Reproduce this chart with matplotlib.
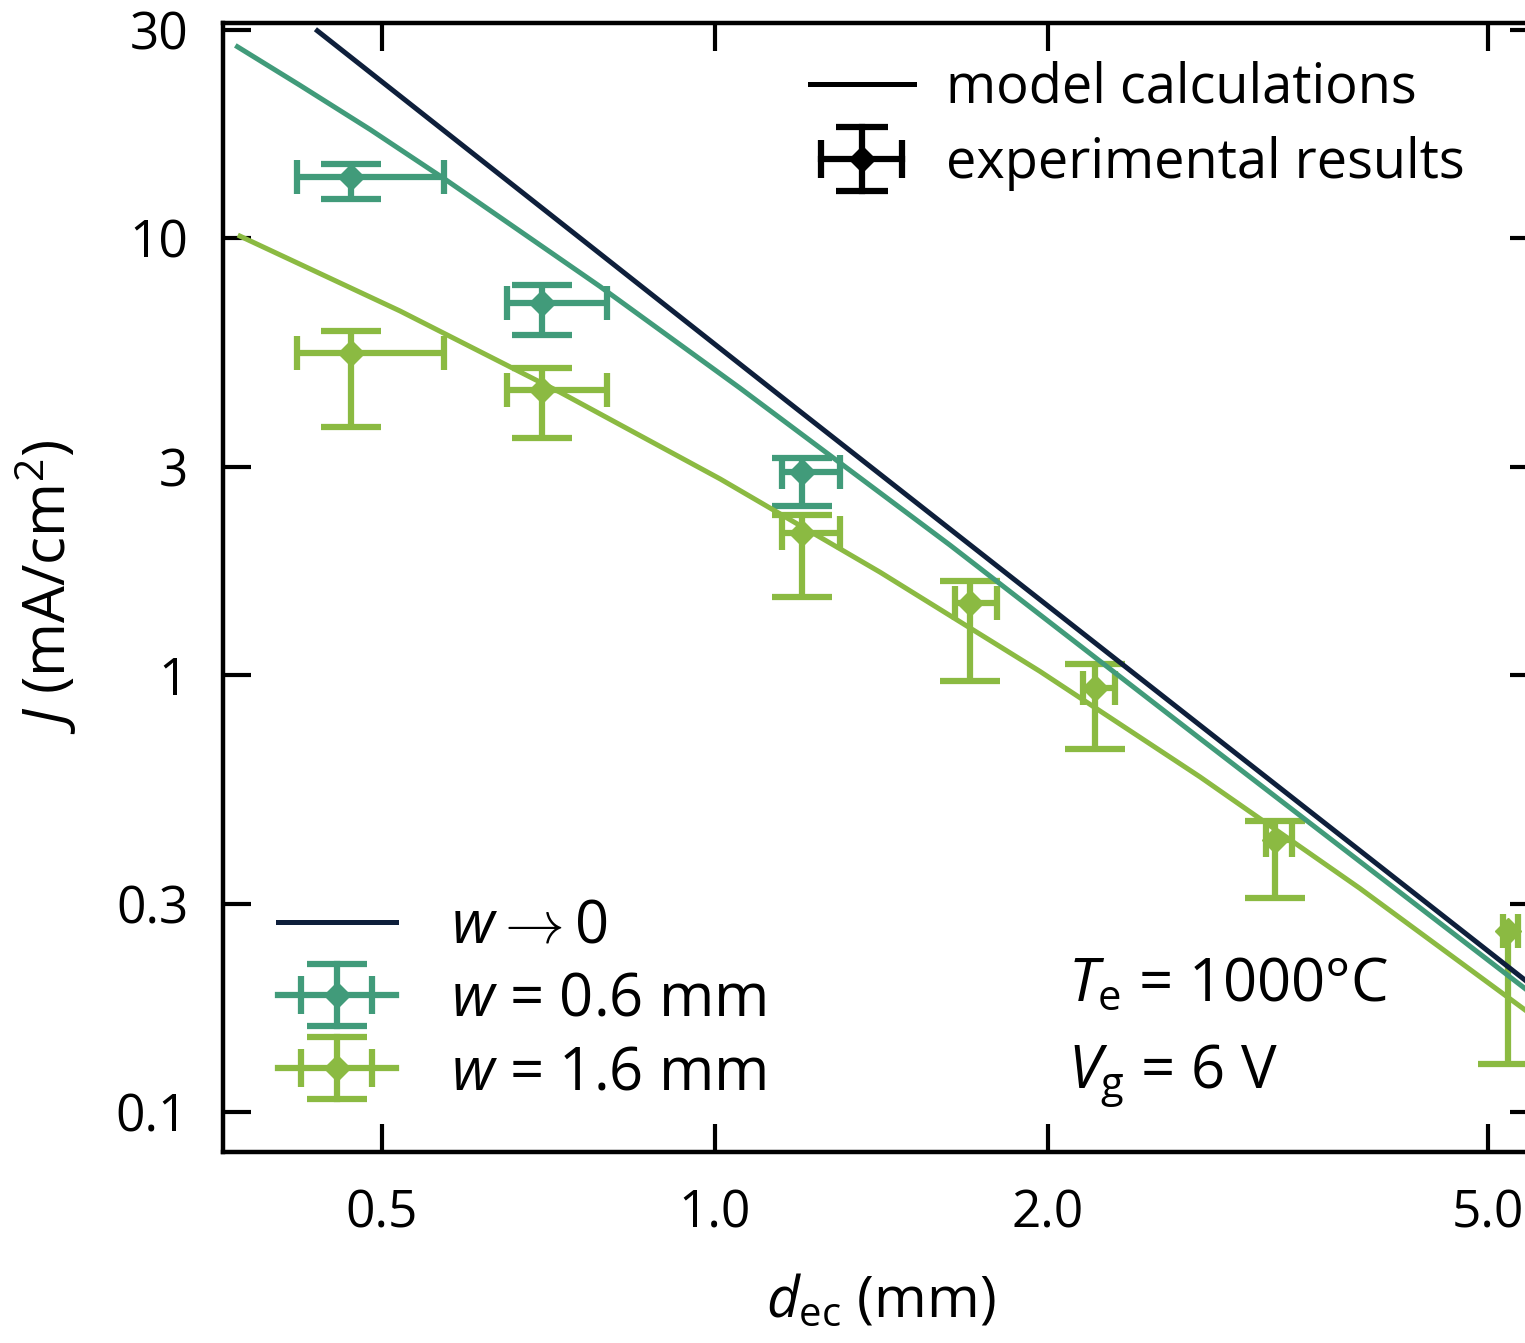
import numpy as np
import matplotlib
matplotlib.use('Agg')
import matplotlib.pyplot as plt
from matplotlib.lines import Line2D
from matplotlib.legend_handler import HandlerBase
from matplotlib.ticker import FixedLocator, FixedFormatter, NullLocator

plt.rcParams['font.family'] = ['Open Sans', 'DejaVu Sans']
plt.rcParams['mathtext.fontset'] = 'custom'
plt.rcParams['mathtext.rm'] = 'Open Sans'
plt.rcParams['mathtext.it'] = 'Open Sans:italic'
plt.rcParams['mathtext.bf'] = 'Open Sans:bold'

navy = '#0e1f3b'
teal = '#419b7a'
green = '#8bba42'

# model calculations, d_ec (mm) vs J (mA/cm^2)
w0_model_d = [0.437, 1.161, 2.745, 5.55]
w0_model_J = [29.8, 4.24, 0.768, 0.190]
w06_model_d = [0.370, 0.421, 0.488, 0.572, 0.787, 1.053, 1.631, 2.745, 5.548]
w06_model_J = [27.4, 22.4, 17.7, 13.55, 7.75, 4.54, 1.984, 0.716, 0.182]
w16_model_d = [0.372, 0.519, 0.724, 1.011, 1.410, 1.967, 2.745, 3.830, 5.548]
w16_model_J = [10.1, 6.81, 4.44, 2.81, 1.72, 1.02, 0.585, 0.325, 0.163]

# experimental results, w = 0.6 mm
w06_d = np.array([0.469, 0.698, 1.198])
w06_d_lo = np.array([0.419, 0.648, 1.149])
w06_d_hi = np.array([0.569, 0.799, 1.297])
w06_J = np.array([13.8, 7.09, 2.92])
w06_J_lo = np.array([12.3, 6.00, 2.44])
w06_J_hi = np.array([14.8, 7.81, 3.13])

# experimental results, w = 1.6 mm
w16_d = np.array([0.469, 0.698, 1.198, 1.701, 2.206, 3.209, 5.216])
w16_d_lo = np.array([0.419, 0.648, 1.149, 1.648, 2.150, 3.153, 5.159])
w16_d_hi = np.array([0.569, 0.799, 1.297, 1.798, 2.299, 3.323, 5.321])
w16_J = np.array([5.45, 4.49, 2.11, 1.46, 0.932, 0.419, 0.259])
w16_J_lo = np.array([3.69, 3.48, 1.51, 0.970, 0.677, 0.309, 0.129])
w16_J_hi = np.array([6.13, 5.05, 2.32, 1.64, 1.06, 0.463, np.nan])

x_ticks = [0.5, 1.0, 2.0, 5.0]
x_ticklabels = ['0.5', '1.0', '2.0', '5.0']
y_ticks = [0.1, 0.3, 1, 3, 10, 30]
y_ticklabels = ['0.1', '0.3', '1', '3', '10', '30']

EW = 4.5      # errorbar line width (pt)
XCAP = 25     # length of the caps on the x error bars
YCAP = 43     # length of the caps on the y error bars
MS = 13


def draw_points(ax, d, d_lo, d_hi, J, J_lo, J_hi, color):
    J_top = np.where(np.isnan(J_hi), J, J_hi)
    ax.hlines(J, d_lo, d_hi, color=color, lw=EW, zorder=2)
    ax.vlines(d, J_lo, J_top, color=color, lw=EW, zorder=2)
    for xs in (d_lo, d_hi):
        ax.plot(xs, J, ls='none', marker='|', ms=XCAP, mew=EW, color=color, zorder=2)
    for ys in (J_lo, J_hi):
        ax.plot(d, ys, ls='none', marker='_', ms=YCAP, mew=EW, color=color, zorder=2)
    ax.plot(d, J, ls='none', marker='D', ms=MS, color=color, zorder=3)


class ErrGlyph(HandlerBase):
    """errorbar legend glyph with separate cap sizes for x and y bars"""
    def __init__(self, half_x, half_y, xcap, ycap, full_line=False):
        super().__init__()
        self.half_x = half_x
        self.half_y = half_y
        self.xcap = xcap
        self.ycap = ycap
        self.full_line = full_line

    def create_artists(self, legend, orig_handle, xdescent, ydescent, width, height, fontsize, trans):
        c = orig_handle.get_color()
        cx = 0.5 * width - xdescent
        cy = 0.5 * height - ydescent
        if self.full_line:
            x0, x1 = -xdescent, width - xdescent
        else:
            x0, x1 = cx - self.half_x, cx + self.half_x
        arts = [
            Line2D([x0, x1], [cy, cy], color=c, lw=EW),
            Line2D([cx, cx], [cy - self.half_y, cy + self.half_y], color=c, lw=EW),
            Line2D([cx - self.half_x, cx + self.half_x], [cy, cy], ls='none', marker='|',
                   ms=self.xcap, mew=EW, color=c),
            Line2D([cx, cx], [cy - self.half_y, cy + self.half_y], ls='none', marker='_',
                   ms=self.ycap, mew=EW, color=c),
            Line2D([cx], [cy], ls='none', marker='D', ms=MS, color=c),
        ]
        for a in arts:
            a.set_transform(trans)
        return arts


fig = plt.figure(figsize=(15.25, 13.43), dpi=100)
ax = fig.add_axes([0.1462, 0.1422, 0.8623, 0.8409])
ax.set_xscale('log')
ax.set_yscale('log')
ax.set_xlim(0.359, 5.55)
ax.set_ylim(0.081, 31.1)

ax.plot(w0_model_d, w0_model_J, color=navy, lw=3.6, zorder=4)
ax.plot(w06_model_d, w06_model_J, color=teal, lw=3.6, zorder=4)
ax.plot(w16_model_d, w16_model_J, color=green, lw=3.6, zorder=4)

draw_points(ax, w06_d, w06_d_lo, w06_d_hi, w06_J, w06_J_lo, w06_J_hi, teal)
draw_points(ax, w16_d, w16_d_lo, w16_d_hi, w16_J, w16_J_lo, w16_J_hi, green)

ax.xaxis.set_major_locator(FixedLocator(x_ticks))
ax.xaxis.set_major_formatter(FixedFormatter(x_ticklabels))
ax.yaxis.set_major_locator(FixedLocator(y_ticks))
ax.yaxis.set_major_formatter(FixedFormatter(y_ticklabels))
ax.xaxis.set_minor_locator(NullLocator())
ax.yaxis.set_minor_locator(NullLocator())
ax.tick_params(which='major', direction='in', length=20, width=3, top=True, right=True,
               labelsize=37, color='black')
ax.tick_params(axis='x', pad=26)
ax.tick_params(axis='y', pad=25)
for s in ax.spines.values():
    s.set_linewidth(3.2)

ax.set_xlabel(r'$d_{\mathrm{ec}}$ (mm)', fontsize=41, labelpad=25)
ax.set_ylabel(r'$J$ (mA/cm$^2$)', fontsize=42, labelpad=26)

# upper legend
model_proxy = Line2D([], [], color='black', lw=3.6)
exp_proxy = Line2D([], [], color='black')
leg1 = ax.legend([model_proxy, exp_proxy], ['model calculations', 'experimental results'],
                 handler_map={exp_proxy: ErrGlyph(29, 23, 27, 38)},
                 loc='upper left', bbox_to_anchor=(0.4462, 0.9665), frameon=False,
                 fontsize=39, handlelength=1.92, handletextpad=0.6, labelspacing=0.38,
                 borderpad=0, borderaxespad=0)
ax.add_artist(leg1)

# lower legend
w0_proxy = Line2D([], [], color=navy, lw=3.6)
w06_proxy = Line2D([], [], color=teal)
w16_proxy = Line2D([], [], color=green)
ax.legend([w0_proxy, w06_proxy, w16_proxy],
          [r'$w \rightarrow 0$', r'$w$ = 0.6 mm', r'$w$ = 1.6 mm'],
          handler_map={w06_proxy: ErrGlyph(25.7, 22.3, 27, 43, True),
                       w16_proxy: ErrGlyph(25.7, 22.3, 27, 43, True)},
          loc='upper left', bbox_to_anchor=(0.0418, 0.226), frameon=False,
          fontsize=43, handlelength=1.97, handletextpad=0.93, labelspacing=0.22,
          borderpad=0, borderaxespad=0)

ax.text(0.6426, 0.1346, r'$T_{\mathrm{e}}$ = 1000°C', transform=ax.transAxes,
        fontsize=43, va='baseline', ha='left')
ax.text(0.6426, 0.0567, r'$V_{\mathrm{g}}$ = 6 V', transform=ax.transAxes,
        fontsize=43, va='baseline', ha='left')

fig.savefig('out.png', dpi=100)
